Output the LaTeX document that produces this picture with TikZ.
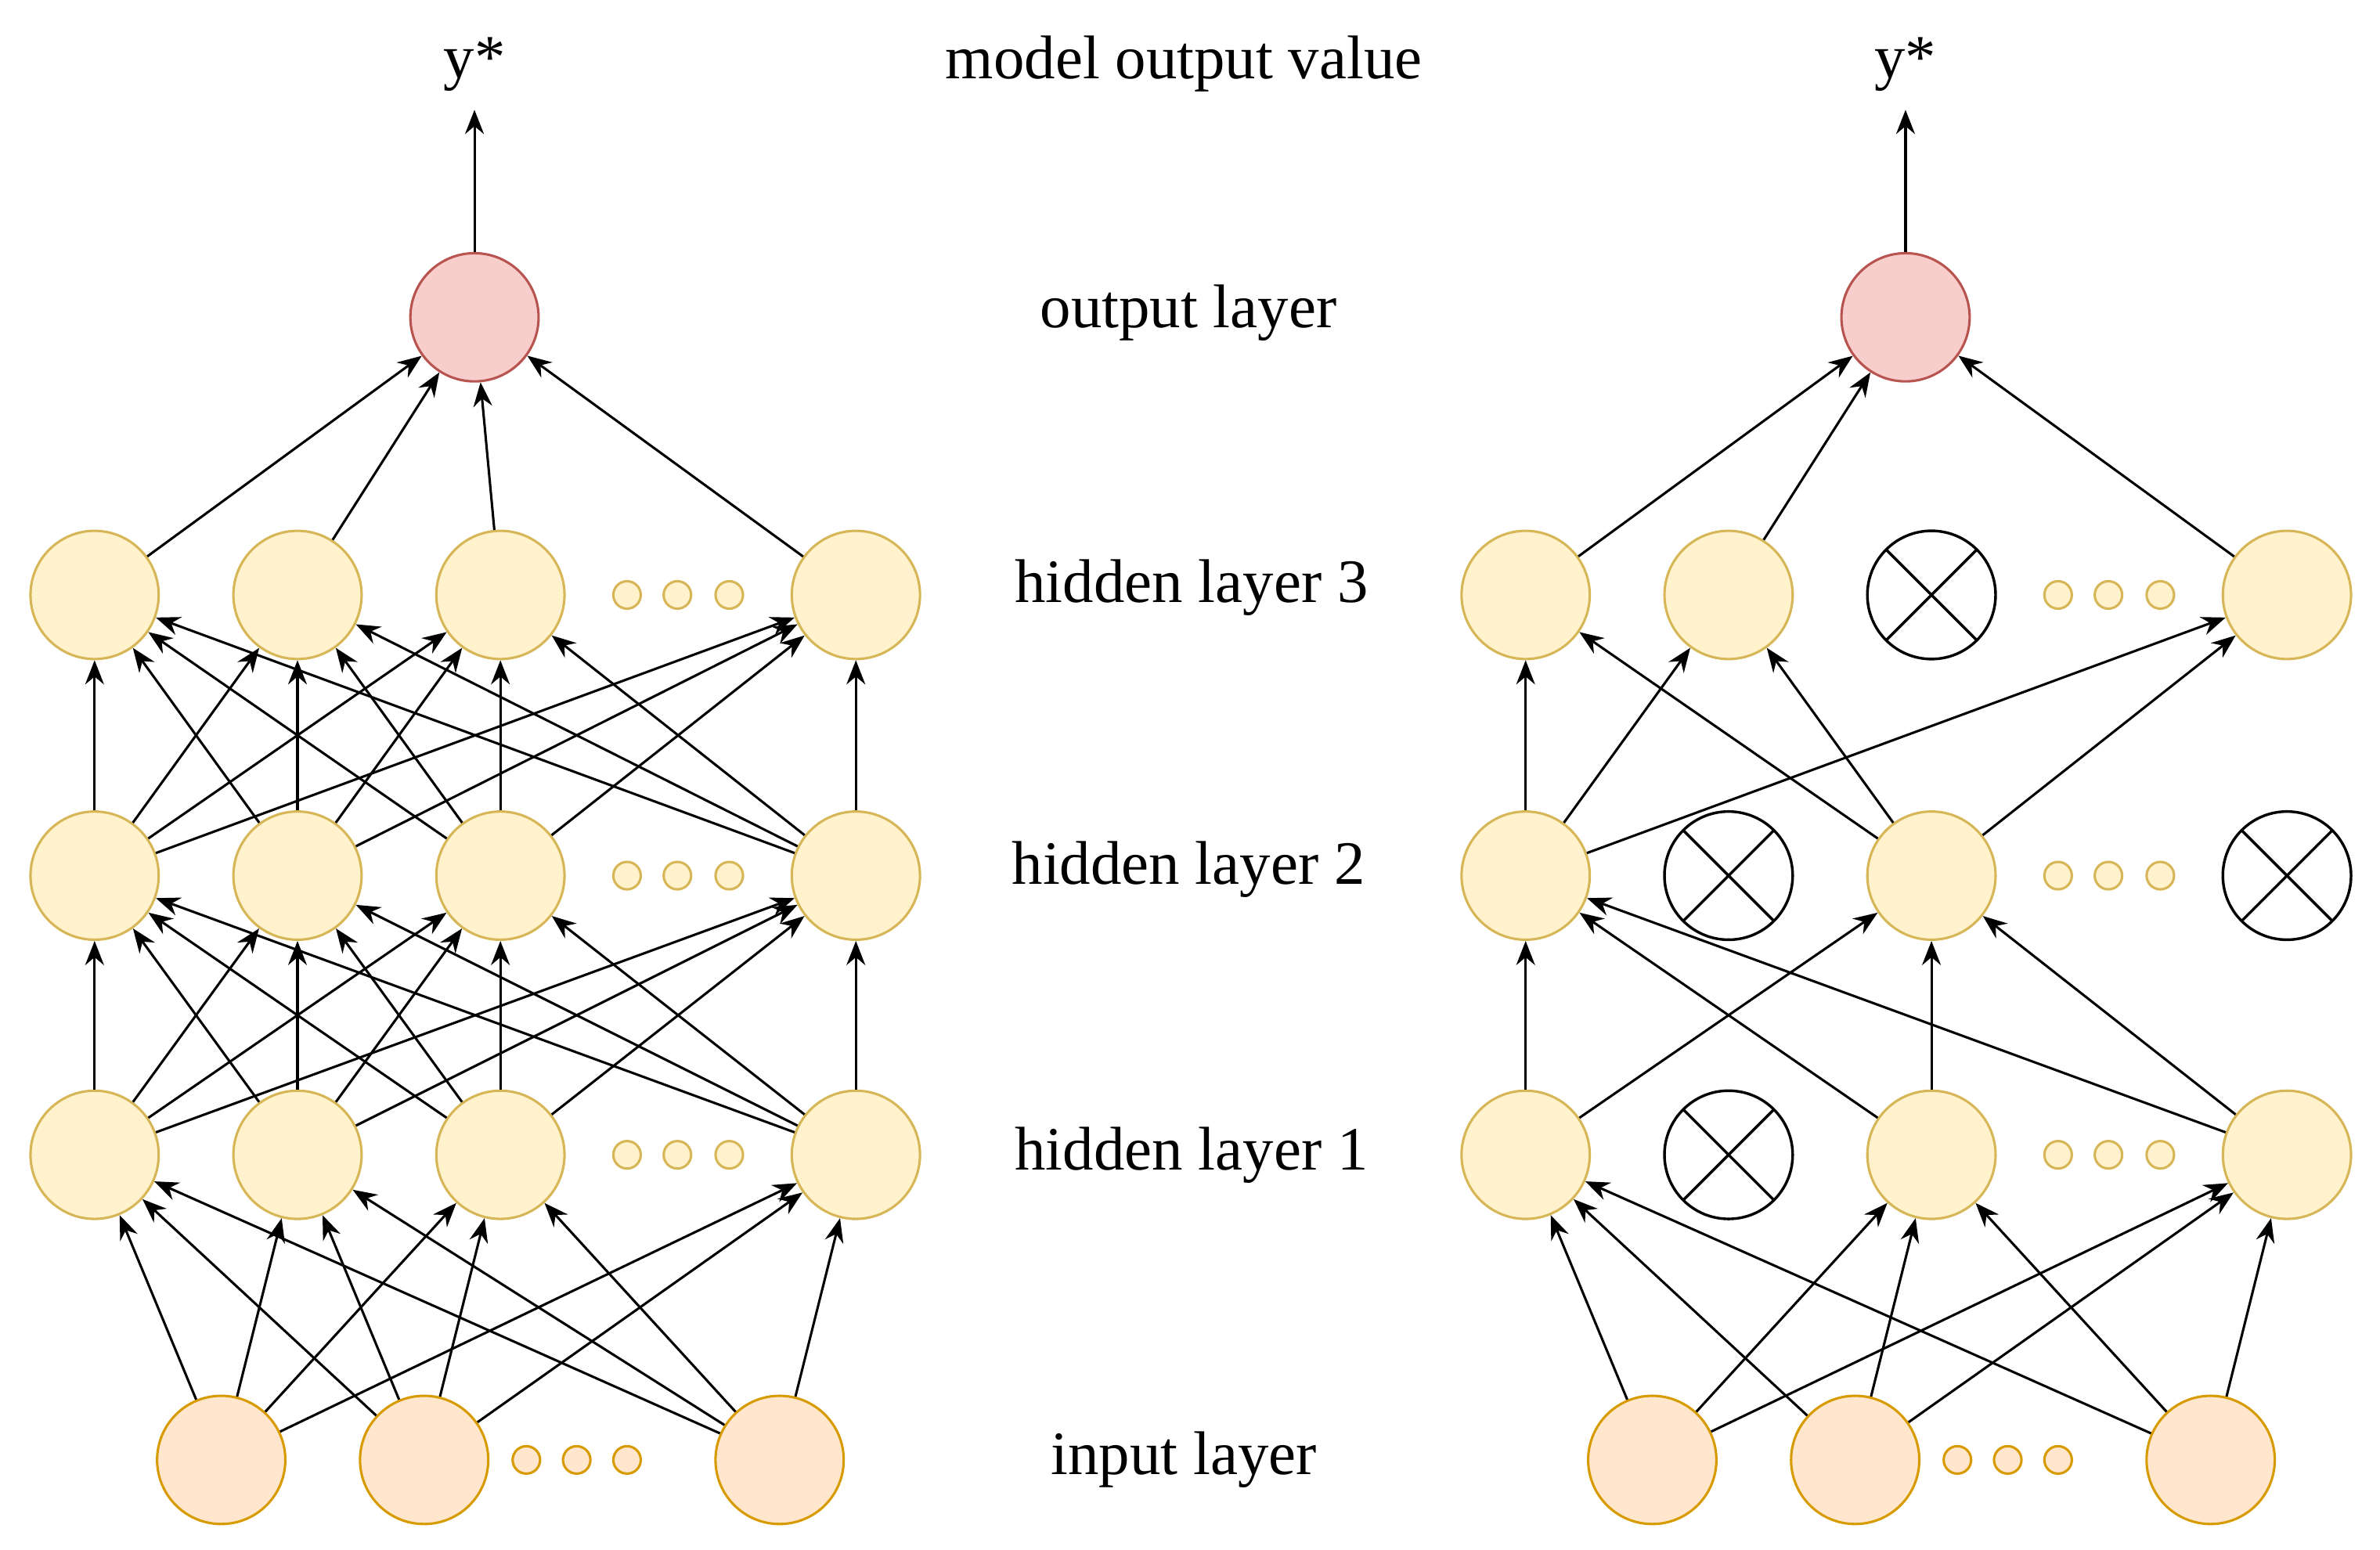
\documentclass[tikz,border=0pt]{standalone}
\usepackage{fontspec}
\setmainfont{Liberation Serif}
\usetikzlibrary{arrows.meta}
\begin{document}
\begin{tikzpicture}[x=0.01cm,y=-0.01cm,
 hid/.style={circle,draw=hs,fill=hf,line width=0.45pt,minimum size=0.84cm,inner sep=0pt},
 inp/.style={circle,draw=is,fill=ifl,line width=0.45pt,minimum size=0.84cm,inner sep=0pt},
 outn/.style={circle,draw=os,fill=of,line width=0.45pt,minimum size=0.84cm,inner sep=0pt},
 hdot/.style={circle,draw=hs,fill=hf,line width=0.45pt,minimum size=0.18cm,inner sep=0pt},
 idot/.style={circle,draw=is,fill=ifl,line width=0.45pt,minimum size=0.18cm,inner sep=0pt},
 xn/.style={circle,draw=black,line width=0.5pt,minimum size=0.84cm,inner sep=0pt,
   path picture={\draw[line width=0.5pt] (path picture bounding box.north west)--(path picture bounding box.south east)
   (path picture bounding box.north east)--(path picture bounding box.south west);}},
 ar/.style={-{Stealth[length=4.5pt,width=3.5pt]},line width=0.45pt},
 lab/.style={font=\fontsize{11.5}{13}\selectfont}]
\definecolor{hf}{HTML}{FFF2CC}\definecolor{hs}{HTML}{D6B656}
\definecolor{ifl}{HTML}{FFE6CC}\definecolor{is}{HTML}{D79B00}
\definecolor{of}{HTML}{F8CECC}\definecolor{os}{HTML}{B85450}
\useasboundingbox (0,0) rectangle (1560,1016);
% labels
\node[lab] (t0) at (776,42) {model output value};
\node[lab] (t1) at (779,205) {output layer};
\node[lab] (t2) at (781,385) {hidden layer 3};
\node[lab] (t3) at (779,570) {hidden layer 2};
\node[lab] (t4) at (781,757) {hidden layer 1};
\node[lab] (t5) at (776,957) {input layer};
% ---------- left ----------
\foreach \n/\x in {1/145,2/278,3/511} \node[inp] (LI\n) at (\x,957) {};
\foreach \n/\x in {1/345,2/378,3/411} \node[idot] (LId\n) at (\x,957) {};
\foreach \l/\y in {1/757,2/574,3/390}{
 \foreach \n/\x in {1/62,2/195,3/328,4/561} \node[hid] (LH\l\n) at (\x,\y) {};
 \foreach \n/\x in {1/411,2/444,3/478} \node[hdot] (LHd\l\n) at (\x,\y) {};
}
\node[outn] (LO) at (311,208) {};
\node[lab] (Ly) at (311,42) {y*};
\draw[ar] (LO) -- (Ly.south);
\foreach \a in {1,2,3}\foreach \b in {1,2,3,4} \draw[ar] (LI\a) -- (LH1\b);
\foreach \a in {1,2,3,4}\foreach \b in {1,2,3,4} {\draw[ar] (LH1\a) -- (LH2\b); \draw[ar] (LH2\a) -- (LH3\b);}
\foreach \a in {1,2,3,4} \draw[ar] (LH3\a) -- (LO);
% ---------- right ----------
\foreach \n/\x in {1/1083,2/1216,3/1449} \node[inp] (RI\n) at (\x,957) {};
\foreach \n/\x in {1/1283,2/1316,3/1349} \node[idot] (RId\n) at (\x,957) {};
\foreach \l/\y in {1/757,2/574,3/390}
 \foreach \n/\x in {1/1349,2/1382,3/1416} \node[hdot] (RHd\l\n) at (\x,\y) {};
\node[hid] (RH11) at (1000,757) {}; \node[xn] (RH12) at (1133,757) {};
\node[hid] (RH13) at (1266,757) {}; \node[hid] (RH14) at (1499,757) {};
\node[hid] (RH21) at (1000,574) {}; \node[xn] (RH22) at (1133,574) {};
\node[hid] (RH23) at (1266,574) {}; \node[xn] (RH24) at (1499,574) {};
\node[hid] (RH31) at (1000,390) {}; \node[hid] (RH32) at (1133,390) {};
\node[xn] (RH33) at (1266,390) {}; \node[hid] (RH34) at (1499,390) {};
\node[outn] (RO) at (1249,208) {};
\node[lab] (Ry) at (1249,42) {y*};
\draw[ar] (RO) -- (Ry.south);
\foreach \a in {1,2,3}\foreach \b in {1,3,4} \draw[ar] (RI\a) -- (RH1\b);
\foreach \a in {1,3,4}\foreach \b in {1,3} \draw[ar] (RH1\a) -- (RH2\b);
\foreach \a in {1,3}\foreach \b in {1,2,4} \draw[ar] (RH2\a) -- (RH3\b);
\foreach \a in {1,2,4} \draw[ar] (RH3\a) -- (RO);
\end{tikzpicture}
\end{document}
